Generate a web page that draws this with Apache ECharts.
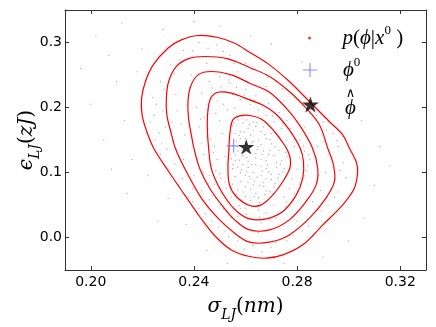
<!DOCTYPE html>
<html>
<head>
<meta charset="utf-8">
<script src="https://cdn.jsdelivr.net/npm/echarts@6/dist/echarts.min.js"></script>
<style>
  html, body { margin: 0; padding: 0; background: #fff; }
  #chart { width: 436px; height: 327px; }
</style>
</head>
<body>
<div id="chart"></div>
<script>
// tick positions
const xTicks = [0.20, 0.24, 0.28, 0.32]
const yTicks = [0.0, 0.1, 0.2, 0.3]

// phi^0 (true value) and phi-hat (estimate)
const phi0 = [0.2554, 0.141]
const phiHat = [0.2603, 0.1394]

// posterior samples (sigma, epsilon)
const samples = [
  [0.255,0.172],[0.257,0.181],[0.259,0.176],[0.261,0.168],[0.256,0.160],[0.258,0.152],[0.262,0.158],[0.264,0.171],
  [0.266,0.163],[0.263,0.148],[0.260,0.145],[0.255,0.141],[0.257,0.133],[0.259,0.126],[0.262,0.131],[0.265,0.140],
  [0.268,0.152],[0.270,0.144],[0.267,0.133],[0.264,0.122],[0.261,0.117],[0.256,0.118],[0.255,0.106],[0.258,0.100],
  [0.261,0.108],[0.264,0.112],[0.268,0.118],[0.271,0.126],[0.273,0.134],[0.274,0.118],[0.272,0.108],[0.269,0.101],
  [0.266,0.095],[0.262,0.090],[0.258,0.086],[0.255,0.082],[0.257,0.073],[0.260,0.078],[0.263,0.081],[0.267,0.085],
  [0.270,0.089],[0.273,0.097],[0.271,0.078],[0.268,0.072],[0.264,0.068],[0.260,0.063],[0.262,0.057],[0.265,0.061],
  [0.259,0.070],[0.256,0.094],[0.259,0.112],[0.263,0.100],[0.266,0.110],[0.269,0.128],[0.262,0.140],[0.258,0.163],
  [0.263,0.178],[0.267,0.170],[0.260,0.152],[0.256,0.127],[0.265,0.150],[0.270,0.160],[0.272,0.115],[0.275,0.106],
  [0.276,0.125],[0.268,0.090],[0.260,0.096],[0.264,0.129],[0.258,0.140],[0.266,0.120],[0.261,0.085],[0.257,0.108],
  [0.263,0.165],[0.259,0.185],[0.254,0.150],[0.267,0.078],[0.270,0.097],[0.262,0.074],[0.266,0.143],[0.268,0.106],
  [0.2535,0.135],[0.2545,0.121],[0.2552,0.112],[0.2575,0.119],[0.2585,0.104],[0.2605,0.101],[0.2615,0.094],[0.2635,0.087],
  [0.2655,0.080],[0.2675,0.066],[0.2695,0.071],[0.2715,0.083],[0.2725,0.091],[0.2745,0.101],[0.2735,0.113],[0.2755,0.131],
  [0.2715,0.139],[0.2695,0.134],[0.2685,0.112],[0.2665,0.102],[0.2645,0.093],[0.2625,0.112],[0.2605,0.123],[0.2585,0.131],
  [0.2565,0.148],[0.2575,0.157],[0.2595,0.162],[0.2615,0.174],[0.2645,0.177],[0.2675,0.158],[0.2695,0.151],[0.2665,0.128],
  [0.2645,0.135],[0.2625,0.146],[0.2555,0.176],[0.2605,0.181],[0.2565,0.066],[0.2585,0.058],[0.2635,0.063],[0.2655,0.054],
  [0.241,0.200],[0.243,0.222],[0.246,0.240],[0.250,0.247],[0.254,0.238],[0.252,0.225],[0.249,0.210],[0.244,0.185],
  [0.242,0.170],[0.245,0.155],[0.248,0.140],[0.244,0.128],[0.247,0.112],[0.250,0.098],[0.248,0.082],[0.251,0.068],
  [0.254,0.055],[0.250,0.050],[0.253,0.040],[0.257,0.032],[0.260,0.045],[0.262,0.030],[0.266,0.022],[0.268,0.038],
  [0.271,0.050],[0.274,0.040],[0.276,0.055],[0.279,0.068],[0.281,0.082],[0.278,0.090],[0.283,0.095],[0.284,0.110],
  [0.281,0.122],[0.283,0.133],[0.279,0.140],[0.276,0.150],[0.278,0.160],[0.274,0.168],[0.271,0.178],[0.268,0.188],
  [0.265,0.196],[0.262,0.205],[0.258,0.212],[0.255,0.220],[0.260,0.228],[0.264,0.218],[0.269,0.206],[0.273,0.192],
  [0.276,0.180],[0.253,0.196],[0.250,0.180],[0.251,0.160],[0.252,0.125],[0.246,0.095],[0.272,0.030],[0.265,0.042],
  [0.285,0.120],[0.281,0.150],[0.247,0.230],[0.256,0.200],[0.249,0.120],[0.252,0.085],[0.258,0.045],[0.277,0.075],
  [0.280,0.105],[0.275,0.062],[0.243,0.145],[0.245,0.205],[0.270,0.195],[0.260,0.240],
  [0.2425,0.182],[0.2455,0.196],[0.2475,0.218],[0.2505,0.232],[0.2535,0.242],[0.2565,0.231],[0.2595,0.219],[0.2635,0.211],
  [0.2665,0.201],[0.2705,0.187],[0.2745,0.176],[0.2775,0.168],[0.2795,0.151],[0.2825,0.141],[0.2845,0.127],[0.2835,0.102],
  [0.2815,0.091],[0.2805,0.072],[0.2785,0.058],[0.2755,0.047],[0.2725,0.036],[0.2695,0.027],[0.2655,0.031],[0.2605,0.036],
  [0.2575,0.049],[0.2545,0.062],[0.2525,0.075],[0.2505,0.091],[0.2485,0.103],[0.2475,0.131],[0.2465,0.151],[0.2455,0.168],
  [0.2485,0.191],[0.2515,0.205],[0.2415,0.121],[0.2435,0.101],[0.2455,0.083],[0.2485,0.061],[0.2515,0.044],[0.2545,0.031],
  [0.224,0.215],[0.227,0.240],[0.231,0.265],[0.236,0.288],[0.242,0.300],[0.249,0.296],[0.254,0.280],[0.260,0.268],
  [0.266,0.255],[0.272,0.240],[0.278,0.222],[0.285,0.195],[0.290,0.178],[0.294,0.160],[0.296,0.140],[0.298,0.115],
  [0.299,0.092],[0.296,0.070],[0.292,0.050],[0.287,0.030],[0.282,0.010],[0.276,-0.005],[0.270,-0.015],[0.263,-0.012],
  [0.257,-0.005],[0.252,0.010],[0.247,0.025],[0.242,0.045],[0.238,0.062],[0.234,0.082],[0.230,0.105],[0.227,0.128],
  [0.225,0.150],[0.223,0.178],[0.228,0.195],[0.233,0.220],[0.235,0.175],[0.232,0.148],[0.236,0.120],[0.240,0.095],
  [0.243,0.072],[0.246,0.058],[0.239,0.250],[0.245,0.268],[0.257,0.255],[0.268,0.232],[0.283,0.170],[0.288,0.140],
  [0.291,0.100],[0.289,0.072],[0.280,0.025],[0.265,0.008],[0.229,0.170],[0.237,0.205],[0.250,0.270],[0.275,0.210],
  [0.292,0.125],[0.286,0.055],
  [0.2255,0.205],[0.2285,0.228],[0.2325,0.252],[0.2345,0.273],[0.2395,0.287],[0.2455,0.291],[0.2515,0.286],[0.2555,0.268],
  [0.2625,0.258],[0.2685,0.246],[0.2745,0.229],[0.2805,0.212],[0.2875,0.188],[0.2915,0.165],[0.2955,0.149],[0.2965,0.103],
  [0.2945,0.062],[0.2895,0.041],[0.2845,0.018],[0.2785,0.003],[0.2715,-0.008],[0.2665,-0.022],[0.2595,-0.018],[0.2535,0.001],
  [0.2495,0.016],[0.2445,0.036],[0.2395,0.055],[0.2355,0.091],[0.2325,0.113],[0.2295,0.136],[0.2265,0.161],[0.2245,0.188],
  [0.2335,0.195],[0.2365,0.158],[0.2385,0.231],[0.2315,0.178],[0.2275,0.145],[0.2395,0.075],[0.2885,0.096],[0.2905,0.148],
  [0.200,0.205],[0.205,0.150],[0.210,0.240],[0.213,0.180],[0.207,0.280],[0.216,0.120],[0.220,0.290],[0.222,0.095],
  [0.228,0.320],[0.212,0.330],[0.230,0.060],[0.237,0.020],[0.245,-0.020],[0.253,-0.040],[0.275,-0.040],[0.290,-0.030],
  [0.300,-0.005],[0.306,0.030],[0.310,0.080],[0.312,0.140],[0.305,0.180],[0.300,0.210],[0.262,0.310],[0.250,0.325],
  [0.240,0.332],[0.218,0.255],[0.202,0.310],[0.214,0.068],[0.226,0.025],[0.196,0.260],[0.270,0.298],[0.208,0.105],
  [0.316,0.110],[0.282,0.270]
]

// density contours (closed loops), outermost first
const contour1 = [
  [0.2197,0.2143],[0.2212,0.2400],[0.2242,0.2656],[0.2299,0.2912],[0.2351,0.3040],[0.2416,0.3108],[0.2493,0.3077],
  [0.2558,0.2989],[0.2616,0.2850],[0.2693,0.2656],[0.2770,0.2400],[0.2848,0.2092],[0.2925,0.1785],[0.2977,0.1579],
  [0.3003,0.1374],[0.3029,0.1169],[0.3035,0.1015],[0.3022,0.0758],[0.2977,0.0502],[0.2900,0.0194],[0.2822,-0.0113],
  [0.2745,-0.0267],[0.2680,-0.0318],[0.2616,-0.0292],[0.2545,-0.0191],[0.2480,0.0031],[0.2422,0.0323],[0.2364,0.0655],
  [0.2302,0.1015],[0.2244,0.1374],[0.2217,0.1631],[0.2199,0.1886]
]
const contour2 = [
  [0.2293,0.2143],[0.2302,0.2400],[0.2332,0.2631],[0.2377,0.2748],[0.2441,0.2785],[0.2532,0.2748],[0.2616,0.2615],
  [0.2693,0.2477],[0.2770,0.2246],[0.2835,0.1989],[0.2887,0.1732],[0.2919,0.1374],[0.2941,0.1117],[0.2945,0.0862],
  [0.2912,0.0605],[0.2848,0.0297],[0.2770,0.0040],[0.2693,-0.0072],[0.2616,-0.0072],[0.2558,0.0066],[0.2493,0.0297],
  [0.2429,0.0605],[0.2364,0.1066],[0.2328,0.1374],[0.2310,0.1631],[0.2295,0.1886]
]
const contour3 = [
  [0.2377,0.2092],[0.2387,0.2323],[0.2416,0.2502],[0.2467,0.2554],[0.2545,0.2502],[0.2616,0.2374],[0.2693,0.2235],
  [0.2758,0.1989],[0.2809,0.1732],[0.2860,0.1374],[0.2880,0.1066],[0.2874,0.0809],[0.2835,0.0554],[0.2770,0.0271],
  [0.2693,0.0117],[0.2616,0.0117],[0.2558,0.0271],[0.2512,0.0477],[0.2461,0.0758],[0.2422,0.1066],[0.2400,0.1374],
  [0.2390,0.1579],[0.2379,0.1835]
]
const contour4 = [
  [0.2454,0.1938],[0.2465,0.2143],[0.2493,0.2235],[0.2545,0.2220],[0.2616,0.2117],[0.2667,0.2038],[0.2719,0.1897],
  [0.2770,0.1655],[0.2812,0.1374],[0.2825,0.1169],[0.2822,0.0912],[0.2797,0.0655],[0.2745,0.0400],[0.2680,0.0286],
  [0.2616,0.0286],[0.2570,0.0389],[0.2532,0.0554],[0.2493,0.0809],[0.2467,0.1066],[0.2457,0.1374],[0.2452,0.1682]
]
const contour5 = [
  [0.2537,0.1477],[0.2541,0.1655],[0.2551,0.1809],[0.2577,0.1871],[0.2616,0.1877],[0.2667,0.1809],[0.2712,0.1631],
  [0.2742,0.1474],[0.2763,0.1343],[0.2774,0.1205],[0.2772,0.1066],[0.2745,0.0862],[0.2706,0.0655],[0.2661,0.0502],
  [0.2616,0.0492],[0.2564,0.0631],[0.2538,0.0809],[0.2532,0.1066],[0.2536,0.1374]
]

const starPath = 'path://M50,0L61.23,34.55L97.55,34.55L68.17,55.9L79.39,90.45L50,69.1L20.61,90.45L31.83,55.9L2.45,34.55L38.77,34.55Z'
const plusPath = 'path://M6,0h1v6h6v1h-6v6h-1v-6h-6v-1h6z'

const serif = 'DejaVu Serif, serif'
const lserif = 'Liberation Serif, DejaVu Serif, serif'

// axis titles
const nameRich = {
  i: { fontFamily: serif, fontStyle: 'italic', fontSize: 20, lineHeight: 30, color: '#000', verticalAlign: 'middle' },
  p: { fontFamily: serif, fontSize: 20, lineHeight: 30, color: '#000', verticalAlign: 'middle' },
  s: { fontFamily: serif, fontStyle: 'italic', fontSize: 14, lineHeight: 20, color: '#000', verticalAlign: 'bottom' }
}

// legend labels
const legendRich = {
  i: { fontFamily: lserif, fontStyle: 'italic', fontSize: 21, lineHeight: 28, color: '#000', verticalAlign: 'middle' },
  p: { fontFamily: lserif, fontSize: 21, lineHeight: 28, color: '#000', verticalAlign: 'middle' },
  u: { fontFamily: lserif, fontSize: 13, lineHeight: 14, color: '#000', verticalAlign: 'top' },
  h: { fontFamily: 'DejaVu Sans', fontSize: 13, lineHeight: 8, width: 14, align: 'center', color: '#000' },
  f: { fontFamily: lserif, fontStyle: 'italic', fontSize: 21, lineHeight: 22, width: 14, align: 'center', color: '#000' }
}

const chartDom = document.getElementById('chart')
const chart = echarts.init(chartDom, null, { renderer: 'canvas' })

const frameColor = '#333'

// each contour is one smooth closed path through its points
const contourSeries = [contour1, contour2, contour3, contour4, contour5].map((c, idx) => ({
  name: 'contour' + (idx + 1),
  type: 'custom',
  coordinateSystem: 'cartesian2d',
  data: c,
  encode: { x: 0, y: 1 },
  silent: true,
  z: 3,
  renderItem: (params, api) => {
    if (params.dataIndex !== 0) return null
    const pts = c.map((p) => api.coord(p))
    return {
      type: 'polygon',
      shape: { points: pts, smooth: 0.35 },
      style: { fill: 'none', stroke: '#ff0000', lineWidth: 1.2 }
    }
  }
}))

const legendBase = {
  orient: 'vertical',
  padding: 0,
  itemGap: 0,
  itemWidth: 56,
  selectedMode: false,
  textStyle: { rich: legendRich }
}

let option = {
  animation: false,
  backgroundColor: '#fff',
  grid: { left: 65, right: 10, top: 10, bottom: 57, containLabel: false },
  legend: [
    Object.assign({}, legendBase, {
      left: 308,
      top: 24,
      itemHeight: 3,
      data: [{ name: 'post', icon: 'circle', itemStyle: { color: '#ff0000' } }],
      formatter: () => '{i|p}{p|(}{i|ϕ}{p||}{i|x}{u|0}{p| )}'
    }),
    Object.assign({}, legendBase, {
      left: 303,
      top: 56,
      itemHeight: 14,
      data: ['phi0'],
      formatter: () => '{i|ϕ}{u|0}'
    }),
    Object.assign({}, legendBase, {
      left: 302,
      top: 87,
      itemHeight: 16,
      data: ['phihat'],
      formatter: () => '{h|∧}\n{f|ϕ}'
    })
  ],
  xAxis: [
    {
      type: 'value',
      min: 0.19,
      max: 0.33,
      axisLine: { show: true, onZero: false, lineStyle: { color: frameColor, width: 1 } },
      axisTick: { show: true, inside: true, length: 4, customValues: xTicks, lineStyle: { color: frameColor } },
      axisLabel: {
        customValues: xTicks,
        formatter: (v) => v.toFixed(2),
        fontFamily: 'DejaVu Sans',
        fontSize: 14,
        color: '#000',
        margin: 5
      },
      splitLine: { show: false },
      name: '{i|σ}{s|LJ}{p|(}{i|nm}{p|)}',
      nameLocation: 'middle',
      nameGap: 22,
      nameMoveOverlap: false,
      nameTextStyle: { rich: nameRich }
    },
    {
      type: 'value',
      position: 'top',
      min: 0.19,
      max: 0.33,
      axisLine: { show: true, onZero: false, lineStyle: { color: frameColor, width: 1 } },
      axisTick: { show: true, inside: true, length: 4, customValues: xTicks, lineStyle: { color: frameColor } },
      axisLabel: { show: false },
      splitLine: { show: false }
    }
  ],
  yAxis: [
    {
      type: 'value',
      min: -0.05,
      max: 0.35,
      axisLine: { show: true, onZero: false, lineStyle: { color: frameColor, width: 1 } },
      axisTick: { show: true, inside: true, length: 4, customValues: yTicks, lineStyle: { color: frameColor } },
      axisLabel: {
        customValues: yTicks,
        formatter: (v) => v.toFixed(1),
        fontFamily: 'DejaVu Sans',
        fontSize: 14,
        color: '#000',
        margin: 3
      },
      splitLine: { show: false },
      name: '{i|ϵ}{s|LJ}{p|(}{i|zJ}{p|)}',
      nameLocation: 'middle',
      nameRotate: 90,
      nameGap: 23,
      nameMoveOverlap: false,
      nameTextStyle: { rich: nameRich }
    },
    {
      type: 'value',
      position: 'right',
      min: -0.05,
      max: 0.35,
      axisLine: { show: true, onZero: false, lineStyle: { color: frameColor, width: 1 } },
      axisTick: { show: true, inside: true, length: 4, customValues: yTicks, lineStyle: { color: frameColor } },
      axisLabel: { show: false },
      splitLine: { show: false }
    }
  ],
  series: [
    {
      name: 'post',
      type: 'scatter',
      data: samples,
      symbol: 'rect',
      symbolSize: 1.2,
      itemStyle: { color: 'rgba(40,40,40,0.45)' },
      z: 1
    },
    ...contourSeries,
    {
      name: 'phi0',
      type: 'scatter',
      data: [phi0],
      symbol: plusPath,
      symbolSize: 14,
      symbolKeepAspect: true,
      itemStyle: { color: '#6f6fff' },
      z: 5
    },
    {
      name: 'phihat',
      type: 'scatter',
      data: [phiHat],
      symbol: starPath,
      symbolSize: 16,
      symbolKeepAspect: true,
      itemStyle: { color: '#000' },
      z: 6
    }
  ]
}

option && chart.setOption(option)
</script>
</body>
</html>
